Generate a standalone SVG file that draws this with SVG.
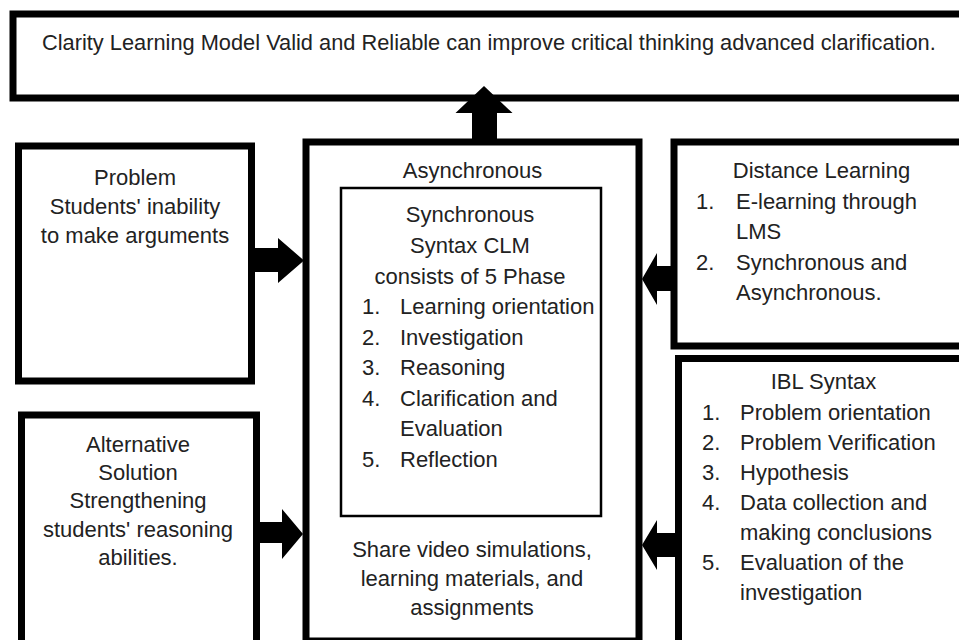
<svg xmlns="http://www.w3.org/2000/svg" width="959" height="640" viewBox="0 0 959 640">
<style>
.box{fill:#fff;stroke:#000;stroke-width:7}
.inner{fill:#fff;stroke:#000;stroke-width:2.5}
.arr{fill:#000;stroke:none}
text{font-family:"Liberation Sans",Arial,sans-serif;font-size:22px;fill:#222}
.c{text-anchor:middle}
</style>
<rect width="959" height="640" fill="#fff"/>
<g id="conclusion">
<rect class="box" x="13" y="14" width="975" height="84"/>
<text x="42" y="50" style="font-size:21.8px">Clarity Learning Model Valid and Reliable can improve critical thinking advanced clarification.</text>
</g>
<g id="problem">
<rect class="box" x="18.5" y="146" width="233" height="235"/>
<text class="c" x="135" y="185">Problem</text>
<text class="c" x="135" y="214">Students' inability</text>
<text class="c" x="135" y="243">to make arguments</text>
</g>
<g id="alternative">
<rect class="box" x="21.5" y="415" width="235" height="230"/>
<text class="c" x="138" y="452">Alternative</text>
<text class="c" x="138" y="480">Solution</text>
<text class="c" x="138" y="508">Strengthening</text>
<text class="c" x="138" y="537">students' reasoning</text>
<text class="c" x="138" y="565">abilities.</text>
</g>
<g id="asynchronous">
<rect class="box" x="306" y="142" width="333" height="499"/>
<text class="c" x="472.5" y="178">Asynchronous</text>
<text class="c" x="472" y="557">Share video simulations,</text>
<text class="c" x="472" y="586">learning materials, and</text>
<text class="c" x="472" y="615">assignments</text>
</g>
<g id="synchronous">
<rect class="inner" x="341" y="188" width="260" height="328"/>
<text class="c" x="470" y="222">Synchronous</text>
<text class="c" x="470" y="253">Syntax CLM</text>
<text class="c" x="470" y="284">consists of 5 Phase</text>
<text x="362" y="314">1.</text><text x="400" y="314">Learning orientation</text>
<text x="362" y="345">2.</text><text x="400" y="345">Investigation</text>
<text x="362" y="375">3.</text><text x="400" y="375">Reasoning</text>
<text x="362" y="406">4.</text><text x="400" y="406">Clarification and</text>
<text x="400" y="436">Evaluation</text>
<text x="362" y="467">5.</text><text x="400" y="467">Reflection</text>
</g>
<g id="distance">
<rect class="box" x="674" y="142" width="300" height="204"/>
<text class="c" x="821.5" y="178">Distance Learning</text>
<text x="696" y="209">1.</text><text x="736" y="209">E-learning through</text>
<text x="736" y="239">LMS</text>
<text x="696" y="270">2.</text><text x="736" y="270">Synchronous and</text>
<text x="736" y="300">Asynchronous.</text>
</g>
<g id="ibl">
<rect class="box" x="678.5" y="358.5" width="300" height="285"/>
<text class="c" x="823.5" y="389">IBL Syntax</text>
<text x="702" y="420">1.</text><text x="740" y="420">Problem orientation</text>
<text x="702" y="450">2.</text><text x="740" y="450">Problem Verification</text>
<text x="702" y="480">3.</text><text x="740" y="480">Hypothesis</text>
<text x="702" y="510">4.</text><text x="740" y="510">Data collection and</text>
<text x="740" y="540">making conclusions</text>
<text x="702" y="570">5.</text><text x="740" y="570">Evaluation of the</text>
<text x="740" y="600">investigation</text>
</g>
<g id="connectors">
<polygon class="arr" points="472,139 472,113 455.5,113 484,86 512.5,113 497,113 497,139"/>
<polygon class="arr" points="253,248 278,248 278,238 304,260.5 278,283 278,272 253,272"/>
<polygon class="arr" points="258,522 282,522 282,509 303,534 282,559 282,543 258,543"/>
<polygon class="arr" points="674,266 657,266 657,253 642,279 657,305 657,291 674,291"/>
<polygon class="arr" points="678,533 657,533 657,520 642,545 657,570 657,557 678,557"/>
</g>
</svg>
